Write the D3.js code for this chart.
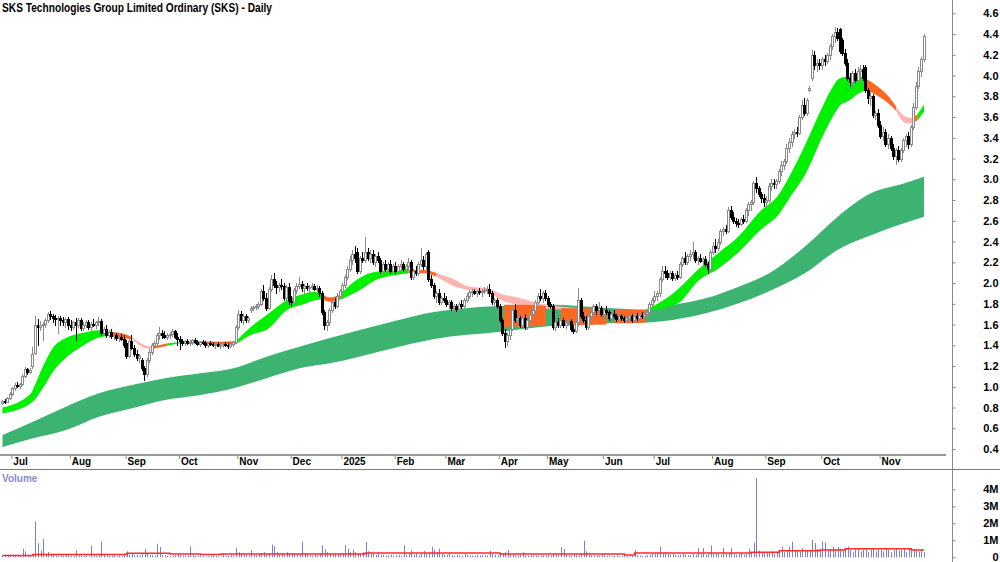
<!DOCTYPE html>
<html>
<head>
<meta charset="utf-8">
<script src="https://cdn.jsdelivr.net/npm/d3@7"></script>
<style>
  body { margin: 0; background: #fff; }
  svg { display: block; font-family: "Liberation Sans", Arial, sans-serif; }
</style>
</head>
<body>
<svg id="chart" width="1000" height="562"></svg>
<script>
// daily candles [open, high, low, close], one array per month
const jun24 = [[0.84,0.87,0.83,0.86],[0.86,0.88,0.84,0.85],[0.85,0.90,0.85,0.89],[0.89,0.95,0.88,0.93]];
const jul24 = [[0.93,1.00,0.92,0.99],[0.99,1.04,0.97,1.02],[1.02,1.05,1.00,1.01],[1.01,1.04,0.99,1.03],
  [1.03,1.12,1.02,1.10],[1.10,1.19,1.09,1.17],[1.17,1.18,1.12,1.14],[1.14,1.18,1.13,1.16],
  [1.20,1.38,1.18,1.32],[1.33,1.68,1.32,1.60],[1.60,1.65,1.40,1.58],[1.58,1.63,1.55,1.60],
  [1.60,1.62,1.45,1.61],[1.61,1.66,1.58,1.64],[1.64,1.72,1.62,1.70],[1.70,1.73,1.65,1.68],
  [1.68,1.70,1.62,1.66],[1.66,1.69,1.60,1.65],[1.65,1.68,1.52,1.66],[1.66,1.68,1.60,1.64],
  [1.64,1.67,1.60,1.62],[1.62,1.66,1.58,1.65],[1.65,1.67,1.56,1.60]];
const aug24 = [[1.60,1.64,1.55,1.58],[1.58,1.63,1.56,1.62],[1.62,1.66,1.45,1.60],[1.60,1.66,1.58,1.64],
  [1.64,1.66,1.55,1.57],[1.57,1.62,1.55,1.60],[1.60,1.64,1.58,1.62],[1.62,1.64,1.56,1.58],
  [1.58,1.62,1.55,1.61],[1.61,1.65,1.59,1.60],[1.60,1.63,1.57,1.62],[1.62,1.67,1.60,1.63],
  [1.63,1.65,1.50,1.52],[1.52,1.58,1.50,1.56],[1.56,1.60,1.48,1.50],[1.50,1.55,1.48,1.53],
  [1.53,1.56,1.47,1.49],[1.49,1.52,1.46,1.50],[1.50,1.52,1.45,1.47],[1.47,1.50,1.44,1.48],
  [1.48,1.51,1.45,1.46],[1.46,1.50,1.38,1.40]];
const sep24 = [[1.42,1.45,1.28,1.30],[1.30,1.46,1.29,1.44],[1.44,1.50,1.36,1.37],[1.37,1.40,1.30,1.32],
  [1.32,1.35,1.26,1.28],[1.28,1.32,1.24,1.30],[1.26,1.28,1.16,1.18],[1.18,1.20,1.07,1.12],
  [1.12,1.28,1.10,1.26],[1.26,1.36,1.24,1.34],[1.34,1.42,1.32,1.40],[1.40,1.44,1.38,1.42],
  [1.42,1.52,1.40,1.50],[1.50,1.58,1.46,1.52],[1.52,1.55,1.47,1.50],[1.50,1.54,1.47,1.48],
  [1.48,1.52,1.46,1.50],[1.50,1.53,1.47,1.51],[1.51,1.56,1.49,1.54],[1.54,1.55,1.47,1.48],
  [1.48,1.52,1.40,1.46]];
const oct24 = [[1.46,1.49,1.36,1.44],[1.44,1.46,1.40,1.42],[1.42,1.45,1.40,1.44],[1.44,1.46,1.41,1.42],
  [1.42,1.45,1.40,1.43],[1.43,1.46,1.41,1.45],[1.45,1.47,1.42,1.43],[1.43,1.45,1.40,1.41],
  [1.41,1.44,1.39,1.43],[1.43,1.45,1.41,1.42],[1.42,1.44,1.38,1.40],[1.40,1.43,1.38,1.42],
  [1.42,1.44,1.40,1.41],[1.41,1.43,1.39,1.40],[1.40,1.42,1.37,1.41],[1.41,1.43,1.39,1.39],
  [1.39,1.42,1.37,1.40],[1.40,1.42,1.38,1.41],[1.41,1.43,1.39,1.40],[1.40,1.42,1.37,1.39],
  [1.39,1.42,1.38,1.41],[1.41,1.44,1.39,1.43],[1.43,1.60,1.42,1.58]];
const nov24 = [[1.58,1.74,1.56,1.70],[1.70,1.73,1.62,1.64],[1.64,1.70,1.61,1.68],[1.68,1.70,1.62,1.64],
  [1.64,1.68,1.62,1.66],[1.74,1.78,1.72,1.76],[1.76,1.78,1.74,1.77],[1.77,1.80,1.75,1.78],
  [1.78,1.82,1.76,1.80],[1.80,1.94,1.79,1.92],[1.92,1.98,1.84,1.86],[1.86,1.90,1.74,1.76],
  [1.76,1.96,1.75,1.94],[1.94,2.08,1.92,2.04],[2.04,2.10,1.96,1.98],[1.98,2.02,1.90,1.96],
  [1.96,2.00,1.92,1.98],[1.98,2.04,1.94,1.97],[1.97,2.00,1.84,1.86],[1.86,1.98,1.84,1.96],
  [1.96,2.00,1.80,1.83]];
const dec24 = [[1.83,1.88,1.78,1.82],[1.82,1.95,1.80,1.93],[1.93,2.00,1.90,1.97],[1.97,2.06,1.95,1.99],
  [1.99,2.02,1.92,1.95],[1.95,1.99,1.90,1.97],[1.97,2.00,1.93,1.95],[1.95,1.98,1.90,1.96],
  [1.96,2.00,1.94,1.97],[1.97,1.99,1.93,1.94],[1.94,1.98,1.92,1.95],[1.95,1.97,1.88,1.90],
  [1.90,1.92,1.70,1.72],[1.72,1.74,1.56,1.60],[1.60,1.64,1.55,1.62],[1.62,1.76,1.60,1.74],
  [1.74,1.84,1.72,1.82],[1.82,1.86,1.76,1.78],[1.78,1.90,1.77,1.88],[1.88,1.94,1.86,1.92]];
const jan25 = [[1.92,2.00,1.90,1.98],[1.98,2.08,1.96,2.06],[2.06,2.16,2.04,2.14],[2.14,2.26,2.12,2.22],
  [2.22,2.32,2.18,2.28],[2.28,2.36,2.20,2.24],[2.30,2.34,2.10,2.12],[2.12,2.26,2.10,2.24],
  [2.24,2.30,2.20,2.22],[2.22,2.44,2.20,2.30],[2.30,2.34,2.22,2.24],[2.24,2.32,2.20,2.28],
  [2.28,2.32,2.18,2.20],[2.20,2.28,2.16,2.26],[2.26,2.30,2.20,2.22],[2.22,2.24,2.10,2.12],
  [2.12,2.20,2.08,2.18],[2.18,2.22,2.12,2.14],[2.14,2.20,2.12,2.18],[2.18,2.22,2.10,2.12],
  [2.12,2.18,2.10,2.16]];
const feb25 = [[2.16,2.20,2.10,2.12],[2.12,2.18,2.10,2.16],[2.16,2.22,2.12,2.18],[2.18,2.20,2.12,2.14],
  [2.14,2.18,2.10,2.16],[2.16,2.24,2.14,2.20],[2.20,2.22,2.04,2.06],[2.06,2.14,2.04,2.12],
  [2.12,2.16,2.08,2.10],[2.10,2.20,2.08,2.18],[2.18,2.34,2.16,2.22],[2.22,2.26,2.14,2.16],
  [2.16,2.30,2.14,2.28],[2.30,2.32,2.02,2.04],[2.04,2.08,1.96,1.98],[1.98,2.00,1.86,1.88],
  [1.88,1.92,1.82,1.90],[1.90,1.94,1.80,1.82],[1.82,1.88,1.80,1.86],[1.86,1.90,1.82,1.84]];
const mar25 = [[1.84,1.88,1.78,1.80],[1.80,1.84,1.76,1.82],[1.82,1.84,1.74,1.76],[1.76,1.80,1.74,1.78],
  [1.78,1.80,1.73,1.75],[1.75,1.82,1.74,1.80],[1.80,1.84,1.76,1.78],[1.78,1.86,1.77,1.84],
  [1.84,1.90,1.82,1.88],[1.88,1.93,1.86,1.91],[1.91,1.94,1.88,1.92],[1.92,1.94,1.89,1.90],
  [1.90,1.93,1.88,1.92],[1.92,1.95,1.89,1.91],[1.91,1.94,1.88,1.92],[1.92,1.96,1.90,1.93],
  [1.93,1.97,1.90,1.94],[1.94,1.99,1.88,1.90],[1.90,1.92,1.80,1.82],[1.82,1.86,1.78,1.84],
  [1.84,1.86,1.76,1.78]];
const apr25 = [[1.78,1.80,1.62,1.64],[1.64,1.66,1.50,1.52],[1.52,1.56,1.38,1.44],[1.44,1.52,1.40,1.50],
  [1.50,1.58,1.46,1.56],[1.56,1.76,1.55,1.74],[1.74,1.80,1.62,1.64],[1.64,1.70,1.60,1.66],
  [1.66,1.68,1.58,1.60],[1.60,1.68,1.58,1.66],[1.66,1.70,1.56,1.58],[1.58,1.66,1.56,1.64],
  [1.64,1.72,1.62,1.70],[1.70,1.76,1.68,1.74],[1.74,1.84,1.72,1.82],[1.82,1.90,1.80,1.88],
  [1.88,1.94,1.84,1.86],[1.86,1.92,1.82,1.90],[1.90,1.93,1.84,1.86]];
const may25 = [[1.86,1.88,1.78,1.80],[1.80,1.82,1.76,1.78],[1.78,1.80,1.56,1.58],[1.58,1.64,1.55,1.62],
  [1.62,1.66,1.58,1.60],[1.60,1.66,1.58,1.64],[1.64,1.66,1.58,1.60],[1.60,1.64,1.57,1.62],
  [1.62,1.66,1.60,1.63],[1.63,1.65,1.54,1.56],[1.56,1.60,1.52,1.54],[1.54,1.64,1.53,1.62],
  [1.62,1.95,1.60,1.84],[1.84,1.86,1.66,1.68],[1.68,1.72,1.62,1.64],[1.64,1.68,1.56,1.58],
  [1.58,1.70,1.56,1.68],[1.68,1.74,1.64,1.72],[1.72,1.80,1.70,1.78],[1.78,1.80,1.70,1.74],
  [1.74,1.82,1.72,1.76],[1.76,1.78,1.68,1.70]];
const jun25 = [[1.70,1.76,1.66,1.74],[1.74,1.78,1.70,1.72],[1.72,1.74,1.64,1.66],[1.66,1.72,1.64,1.70],
  [1.70,1.74,1.66,1.68],[1.68,1.70,1.63,1.65],[1.65,1.70,1.64,1.68],[1.68,1.70,1.64,1.66],
  [1.66,1.68,1.62,1.64],[1.64,1.68,1.62,1.66],[1.66,1.70,1.64,1.68],[1.68,1.70,1.62,1.64],
  [1.64,1.70,1.63,1.68],[1.68,1.71,1.64,1.66],[1.66,1.70,1.64,1.69],[1.69,1.72,1.66,1.68],
  [1.68,1.72,1.65,1.70],[1.70,1.74,1.67,1.72],[1.72,1.82,1.70,1.80],[1.80,1.86,1.78,1.84]];
const jul25 = [[1.84,1.92,1.82,1.88],[1.88,1.92,1.84,1.90],[1.90,2.06,1.88,2.04],[2.04,2.16,2.02,2.12],
  [2.12,2.16,2.06,2.10],[2.10,2.13,2.04,2.06],[2.06,2.12,2.04,2.10],[2.10,2.12,2.03,2.05],
  [2.05,2.10,2.03,2.08],[2.08,2.12,2.04,2.06],[2.06,2.20,2.05,2.18],[2.18,2.26,2.16,2.24],
  [2.24,2.30,2.18,2.20],[2.20,2.28,2.18,2.26],[2.26,2.32,2.22,2.28],[2.28,2.40,2.24,2.30],
  [2.30,2.32,2.20,2.22],[2.22,2.26,2.18,2.24],[2.24,2.28,2.20,2.21],[2.21,2.25,2.18,2.23],
  [2.23,2.26,2.16,2.18],[2.18,2.20,2.10,2.14],[2.14,2.32,2.12,2.30]];
const aug25 = [[2.30,2.40,2.28,2.36],[2.36,2.42,2.30,2.34],[2.34,2.42,2.32,2.40],[2.40,2.52,2.38,2.50],
  [2.50,2.54,2.46,2.52],[2.52,2.56,2.48,2.50],[2.50,2.73,2.49,2.70],[2.70,2.74,2.62,2.64],
  [2.64,2.68,2.58,2.60],[2.60,2.63,2.55,2.58],[2.58,2.62,2.54,2.57],[2.57,2.64,2.56,2.62],
  [2.62,2.66,2.58,2.60],[2.60,2.72,2.59,2.70],[2.70,2.78,2.66,2.76],[2.76,2.80,2.70,2.78],
  [2.78,2.98,2.76,2.96],[2.96,3.02,2.88,2.92],[2.92,2.94,2.84,2.86],[2.86,2.88,2.78,2.82],
  [2.82,2.86,2.74,2.78]];
const sep25 = [[2.78,2.84,2.74,2.80],[2.80,2.96,2.78,2.94],[2.94,3.00,2.90,2.96],[2.96,3.00,2.92,2.95],
  [2.95,3.00,2.92,2.98],[2.98,3.10,2.96,3.08],[3.08,3.18,3.04,3.14],[3.14,3.20,3.10,3.18],
  [3.18,3.34,3.16,3.30],[3.30,3.40,3.26,3.36],[3.36,3.47,3.32,3.44],[3.44,3.48,3.40,3.46],
  [3.46,3.50,3.42,3.45],[3.45,3.62,3.44,3.60],[3.60,3.76,3.58,3.72],[3.72,3.78,3.62,3.64],
  [3.64,3.78,3.62,3.76],[3.86,3.90,3.85,3.88],[3.98,4.25,3.96,4.20],[4.20,4.24,4.06,4.10],
  [4.10,4.16,4.04,4.12],[4.12,4.16,4.06,4.10]];
const oct25 = [[4.10,4.18,4.06,4.16],[4.16,4.20,4.10,4.14],[4.14,4.22,4.12,4.20],[4.20,4.30,4.16,4.28],
  [4.28,4.40,4.26,4.38],[4.38,4.47,4.32,4.42],[4.42,4.46,4.34,4.36],[4.45,4.46,4.22,4.24],
  [4.34,4.36,4.20,4.22],[4.22,4.26,4.10,4.12],[4.12,4.16,3.96,3.98],[3.98,4.02,3.90,3.94],
  [3.94,4.04,3.88,4.02],[4.02,4.06,3.94,3.96],[3.96,4.08,3.94,4.04],[4.04,4.10,3.98,4.06],
  [4.06,4.10,3.96,3.98],[4.08,4.10,3.84,3.86],[3.86,3.88,3.74,3.78],[3.78,3.84,3.72,3.80],
  [3.80,3.82,3.60,3.62],[3.62,3.66,3.58,3.64],[3.64,3.68,3.50,3.52]];
const nov25 = [[3.52,3.56,3.40,3.42],[3.42,3.50,3.38,3.46],[3.46,3.48,3.32,3.34],[3.34,3.44,3.30,3.40],
  [3.40,3.42,3.28,3.30],[3.30,3.34,3.20,3.22],[3.22,3.30,3.15,3.28],[3.28,3.32,3.18,3.20],
  [3.20,3.30,3.18,3.28],[3.28,3.40,3.26,3.38],[3.38,3.44,3.32,3.42],[3.42,3.46,3.30,3.34],
  [3.34,3.52,3.32,3.50],[3.50,3.74,3.48,3.70],[3.70,3.94,3.68,3.90],[3.90,4.08,3.88,4.04],
  [4.04,4.18,4.00,4.16],[4.16,4.40,4.14,4.38]];

// daily volume in millions, one array per month
const volJun24 = [0.10,0.12,0.08,0.15];
const volJul24 = [0.15,0.08,0.1,0.12,0.5,0.35,0.12,0.1,0.2,2.1,0.82,0.4,1.08,0.2,0.3,0.15,0.12,0.1,0.08,0.12,0.1,0.15,0.1];
const volAug24 = [0.1,0.08,0.4,0.12,0.1,0.08,0.1,0.06,0.67,0.1,0.08,0.12,0.92,0.15,0.1,0.08,0.1,0.12,0.06,0.1,0.08,0.2];
const volSep24 = [0.35,0.15,0.2,0.12,0.15,0.1,0.18,0.5,0.2,0.15,0.12,0.1,0.8,0.6,0.15,0.12,0.1,0.08,0.1,0.12,0.15];
const volOct24 = [0.12,0.1,0.08,0.1,0.64,0.12,0.08,0.06,0.1,0.08,0.05,0.06,0.1,0.08,0.07,0.06,0.05,0.2,0.1,0.08,0.12,0.1,0.53];
const volNov24 = [0.3,0.2,0.15,0.12,0.1,0.4,0.15,0.12,0.2,0.25,0.3,0.2,0.25,0.75,0.64,0.3,0.2,0.25,0.15,0.3,0.2];
const volDec24 = [0.2,0.25,0.15,0.2,0.92,0.2,0.15,0.12,0.1,0.15,0.12,0.2,0.7,0.45,0.3,0.2,0.15,0.2,0.15,0.25];
const volJan25 = [0.25,0.7,0.5,0.3,0.45,0.3,0.25,0.2,0.3,0.9,0.35,0.25,0.2,0.15,0.2,0.12,0.15,0.1,0.12,0.15,0.1];
const volFeb25 = [0.12,0.15,0.1,0.7,0.15,0.2,0.4,0.15,0.2,0.12,0.25,0.38,0.2,0.25,0.62,0.45,0.3,0.5,0.2,0.15];
const volMar25 = [0.15,0.2,0.12,0.1,0.15,0.12,0.1,0.2,0.15,0.12,0.1,0.08,0.12,0.1,0.15,0.12,0.1,0.38,0.2,0.15,0.12];
const volApr25 = [0.2,0.25,0.3,0.43,0.2,0.15,0.12,0.1,0.15,0.3,0.12,0.1,0.08,0.12,0.1,0.08,0.1,0.12,0.1];
const volMay25 = [0.12,0.1,0.2,0.15,0.12,0.6,0.48,0.15,0.12,0.1,0.15,0.12,0.1,0.2,0.98,0.35,0.15,0.12,0.1,0.12,0.1,0.15];
const volJun25 = [0.1,0.08,0.1,0.06,0.08,0.1,0.05,0.06,0.08,0.1,0.06,0.08,0.43,0.12,0.1,0.08,0.1,0.12,0.15,0.2];
const volJul25 = [0.2,0.25,0.63,0.2,0.33,0.2,0.15,0.2,0.15,0.12,0.15,0.2,0.15,0.12,0.15,0.2,0.15,0.53,0.2,0.55,0.15,0.2,0.7];
const volAug25 = [0.2,0.25,0.2,0.15,0.55,0.2,0.25,0.53,0.2,0.15,0.2,0.25,0.15,0.2,0.5,0.25,0.87,4.67,0.4,0.3,0.25];
const volSep25 = [0.3,0.25,0.35,0.2,0.3,0.35,0.62,0.3,0.4,0.6,0.92,0.45,0.4,0.35,0.55,0.45,0.4,0.45,1.02,0.84,0.5,0.45];
const volOct25 = [0.95,0.88,0.45,0.5,0.63,0.45,0.6,0.5,0.4,0.45,0.63,0.45,0.3,0.45,0.5,0.35,0.45,0.5,0.3,0.45,0.5,0.35,0.45];
const volNov25 = [0.45,0.35,0.5,0.45,0.3,0.45,0.5,0.4,0.45,0.5,0.3,0.55,0.45,0.5,0.4,0.35,0.45,0.3];

// volume moving average, read as steps [day index, millions]
const volumeAvg = [[0,0.10],[12,0.16],[49,0.24],[66,0.20],[78,0.16],[86,0.20],[143,0.26],[196,0.20],
  [245,0.14],[249,0.25],[295,0.30],[306,0.39],[322,0.43],[332,0.51],[358,0.43],[363,0.43]];

// long-term moving average ribbon [day index, top, bottom]
const longBand = [[0,0.535,0.42],[12,0.664,0.503],[25,0.808,0.584],[38,0.937,0.712],[51,1.017,0.793],
  [64,1.082,0.873],[78,1.13,0.921],[91,1.178,0.986],[104,1.29,1.082],[117,1.386,1.178],[129,1.47,1.226],
  [151,1.612,1.355],[170,1.72,1.46],[196,1.78,1.53],[216,1.79,1.586],[238,1.76,1.612],[254,1.745,1.62],
  [264,1.788,1.644],[277,1.853,1.708],[290,1.965,1.805],[303,2.109,1.933],[316,2.35,2.094],
  [329,2.64,2.32],[342,2.865,2.46],[355,2.96,2.576],[363,3.025,2.64]];

// short-term ribbon pieces, trend: up / down / fading
const shortBand = [
  { trend: "up", pts: [[0,0.80,0.745],[11,0.93,0.84],[12.5,1.0,0.87],[16,1.2,0.99],[20,1.38,1.15],[25,1.47,1.28],[31,1.515,1.386],[38,1.545,1.475],[42,1.53,1.49]] },
  { trend: "down", pts: [[42,1.53,1.49],[47,1.515,1.467],[51,1.48,1.46]] },
  { trend: "fade", pts: [[51,1.48,1.46],[56,1.40,1.375],[59,1.385,1.365]] },
  { trend: "down", pts: [[59,1.385,1.365],[65,1.42,1.395]] },
  { trend: "up", pts: [[65,1.42,1.395],[71,1.435,1.42],[78,1.44,1.415]] },
  { trend: "down", pts: [[78,1.44,1.415],[85,1.435,1.41],[92,1.44,1.41]] },
  { trend: "up", pts: [[92,1.44,1.41],[97,1.56,1.49],[105,1.71,1.565],[112,1.835,1.74],[118,1.89,1.79],[123,1.915,1.835],[126,1.89,1.845]] },
  { trend: "down", pts: [[126,1.89,1.845],[129,1.862,1.82],[133,1.89,1.84]] },
  { trend: "up", pts: [[133,1.89,1.84],[140,2.04,1.92],[147,2.11,2.03],[155,2.126,2.077],[160,2.126,2.094]] },
  { trend: "down", pts: [[160,2.126,2.094],[166,2.126,2.094],[171,2.094,2.06]] },
  { trend: "fade", pts: [[171,2.094,2.06],[177,2.046,1.98],[184,1.965,1.933],[191,1.95,1.917],[196,1.90,1.84],[203,1.86,1.79],[209,1.82,1.76],[214,1.79,1.75],[220,1.775,1.745],[226,1.76,1.73],[232,1.73,1.70]] },
  { trend: "down", pts: [[197.5,1.79,1.58],[205,1.79,1.58],[214,1.78,1.585]] },
  { trend: "down", pts: [[220,1.757,1.596],[229,1.757,1.596],[238,1.75,1.60]] },
  { trend: "down", pts: [[241,1.74,1.612],[247,1.74,1.612],[253.5,1.74,1.62]] },
  { trend: "up", pts: [[253.5,1.745,1.73],[258,1.80,1.745],[262,1.86,1.77],[266.5,1.95,1.81],[274,2.13,2.02],[282,2.29,2.14],[290,2.45,2.30],[298,2.68,2.50],[306,2.86,2.67],[310,3.03,2.82],[316.5,3.35,3.06],[323,3.70,3.41],[327,3.89,3.60],[329.5,3.97,3.70],[333.5,3.99,3.76],[337.4,3.99,3.83],[340.2,3.97,3.86]] },
  { trend: "down", pts: [[340.2,3.97,3.86],[345,3.89,3.80],[349,3.80,3.73],[352,3.70,3.66]] },
  { trend: "fade", pts: [[352,3.70,3.66],[356,3.60,3.54],[358.3,3.59,3.54]] },
  { trend: "down", pts: [[358.3,3.59,3.54],[360.5,3.63,3.57]] },
  { trend: "up", pts: [[360.5,3.63,3.57],[363,3.72,3.65]] }
];

// axis labels
const monthLabels = [null, "Jul", "Aug", "Sep", "Oct", "Nov", "Dec", "2025", "Feb", "Mar", "Apr", "May", "Jun", "Jul", "Aug", "Sep", "Oct", "Nov"];
const priceTicks = [0.4, 0.6, 0.8, 1.0, 1.2, 1.4, 1.6, 1.8, 2.0, 2.2, 2.4, 2.6, 2.8, 3.0, 3.2, 3.4, 3.6, 3.8, 4.0, 4.2, 4.4, 4.6];
const volumeTicks = [0, 1, 2, 3, 4];
const volumeTickLabels = ["0", "1M", "2M", "3M", "4M"];

const monthCandles = [jun24, jul24, aug24, sep24, oct24, nov24, dec24, jan25, feb25, mar25, apr25, may25, jun25, jul25, aug25, sep25, oct25, nov25];
const monthVolumes = [volJun24, volJul24, volAug24, volSep24, volOct24, volNov24, volDec24, volJan25, volFeb25, volMar25, volApr25, volMay25, volJun25, volJul25, volAug25, volSep25, volOct25, volNov25];

const candles = monthCandles.flat();
const volumes = monthVolumes.flat();
const n = candles.length;

// first day index of every month
const monthStarts = [];
monthCandles.reduce((acc, m) => { monthStarts.push(acc); return acc + m.length; }, 0);

// layout
const axisX = 952;
const priceBottom = 455;
const svg = d3.select('#chart');

const x = d3.scaleLinear().domain([-0.5, n - 0.5]).range([1.2, 925.3]);
const y = d3.scaleLinear().domain([0.4, 4.6]).range([449.05, 13.3]);
const yVol = d3.scaleLinear().domain([0, 4]).range([557.3, 489.3]);

const trendColour = { up: "#00f000", down: "#ff6720", fade: "#ffb4b4" };

svg.append('defs').append('clipPath').attr('id', 'plot')
  .append('rect').attr('x', 0).attr('y', 0).attr('width', axisX).attr('height', priceBottom);

const plot = svg.append('g').attr('clip-path', 'url(#plot)');

// ribbons
const band = d3.area()
  .x(d => x(d[0]))
  .y0(d => y(d[2]))
  .y1(d => y(d[1]))
  .curve(d3.curveMonotoneX);

plot.append('path')
  .attr('d', band(longBand))
  .attr('fill', '#3cb371');

shortBand.forEach(seg => {
  plot.append('path')
    .attr('d', band(seg.pts))
    .attr('fill', trendColour[seg.trend]);
});

// candles
const cg = plot.append('g');
candles.forEach((c, i) => {
  const [o, h, l, cl] = c;
  const up = cl >= o;
  const px = Math.round(x(i) - 1.5);
  const col = up ? '#8a8a8a' : '#000';
  cg.append('line')
    .attr('x1', px + 1.5).attr('x2', px + 1.5)
    .attr('y1', Math.round(y(h))).attr('y2', Math.round(y(l)) + 1)
    .attr('stroke', col).attr('stroke-width', 1);
  const top = Math.round(y(Math.max(o, cl)));
  const bot = Math.round(y(Math.min(o, cl)));
  cg.append('rect')
    .attr('x', px + 0.5).attr('width', 2)
    .attr('y', top + 0.5).attr('height', Math.max(0, bot - top))
    .attr('fill', up ? '#fff' : '#000')
    .attr('stroke', col).attr('stroke-width', 1);
});

// x axis band
svg.append('line')
  .attr('x1', 0).attr('x2', 946).attr('y1', 455).attr('y2', 455)
  .attr('stroke', '#9a9a9a').attr('stroke-width', 2);
svg.append('line')
  .attr('x1', 0).attr('x2', 1000).attr('y1', 469.5).attr('y2', 469.5)
  .attr('stroke', '#7a7a7a').attr('stroke-width', 1);

const tickIdx = monthStarts.filter((s, k) => monthLabels[k] !== null);
const tickLab = monthLabels.filter(d => d !== null);
const xAxis = svg.append('g')
  .attr('transform', 'translate(0, 456)')
  .call(d3.axisBottom(x)
    .tickValues(tickIdx.map(s => s - 0.5))
    .tickSize(3)
    .tickFormat((d, k) => tickLab[k]));
xAxis.select('.domain').remove();
xAxis.selectAll('line').attr('stroke', '#888');
xAxis.selectAll('text')
  .attr('x', 1.5).attr('y', 2).attr('dy', '0.71em')
  .style('text-anchor', 'start')
  .attr('fill', '#000')
  .style('font-size', '10px').style('font-weight', 'bold');

// right-hand axis line
svg.append('line')
  .attr('x1', axisX + 0.5).attr('x2', axisX + 0.5).attr('y1', 0).attr('y2', 562)
  .attr('stroke', '#8a8a8a').attr('stroke-width', 1);

// price axis
const yAxis = svg.append('g')
  .attr('transform', `translate(${axisX + 0.5}, 0)`)
  .call(d3.axisRight(y).tickValues(priceTicks).tickSize(3).tickFormat(d3.format('.1f')));
yAxis.select('.domain').remove();
yAxis.selectAll('line').attr('stroke', '#888');
yAxis.selectAll('text')
  .attr('x', 46).style('text-anchor', 'end')
  .attr('fill', '#000')
  .style('font-size', '11px').style('font-weight', 'bold');

// volume panel
svg.append('text')
  .attr('x', 2).attr('y', 482)
  .attr('fill', '#8a8acc')
  .style('font-size', '10px').style('font-weight', 'bold')
  .text('Volume');

svg.append('g').selectAll('line')
  .data(volumes)
  .enter()
  .append('line')
  .attr('x1', (v, i) => Math.round(x(i)) + 0.5)
  .attr('x2', (v, i) => Math.round(x(i)) + 0.5)
  .attr('y1', yVol(0))
  .attr('y2', v => yVol(v))
  .attr('stroke', '#7d7dd6').attr('stroke-width', 1);

svg.append('path')
  .attr('d', d3.line().x(d => x(d[0])).y(d => yVol(d[1])).curve(d3.curveStepAfter)(volumeAvg))
  .attr('fill', 'none').attr('stroke', '#ff2a2a').attr('stroke-width', 1.5);

const vAxis = svg.append('g')
  .attr('transform', `translate(${axisX + 0.5}, 0)`)
  .call(d3.axisRight(yVol).tickValues(volumeTicks).tickSize(3).tickFormat((d, k) => volumeTickLabels[k]));
vAxis.select('.domain').remove();
vAxis.selectAll('line').attr('stroke', '#888');
vAxis.selectAll('text')
  .attr('x', 46).style('text-anchor', 'end')
  .attr('fill', '#000')
  .style('font-size', '11px').style('font-weight', 'bold');

// title
svg.append('text')
  .attr('x', 2).attr('y', 12)
  .attr('textLength', 270).attr('lengthAdjust', 'spacingAndGlyphs')
  .style('font-size', '12.5px').style('font-weight', 'bold')
  .text('SKS Technologies Group Limited Ordinary (SKS) - Daily');
</script>
</body>
</html>
